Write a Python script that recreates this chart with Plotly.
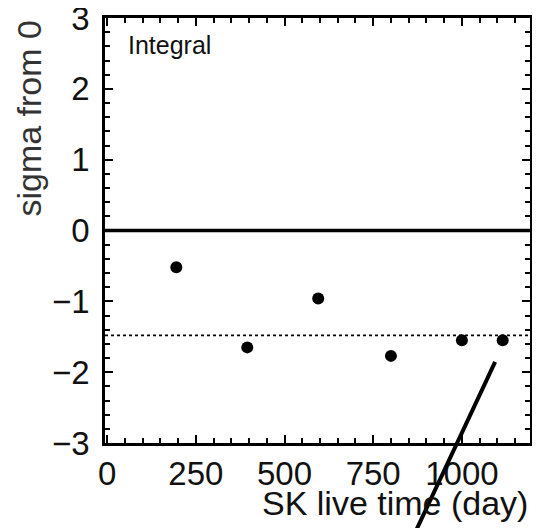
import plotly.graph_objects as go

# Data
live_time_days = [195, 395, 595, 800, 1000, 1115]
sigma_from_0 = [-0.52, -1.65, -0.96, -1.77, -1.55, -1.55]
reference_level = -1.48
x_tick_vals = [0, 250, 500, 750, 1000]
x_tick_text = ["0", "250", "500", "750", "1000"]
y_tick_vals = [-3, -2, -1, 0, 1, 2, 3]
y_tick_text = ["\u22123", "\u22122", "\u22121", "0", "1", "2", "3"]

FONT = "Liberation Sans, Arial, Helvetica, sans-serif"

fig = go.Figure()

fig.add_trace(go.Scatter(
    x=live_time_days, y=sigma_from_0, mode="markers",
    marker=dict(symbol="circle", size=12, color="black"),
    showlegend=False, hoverinfo="x+y",
))

# zero line (thick solid) and reference level (dotted)
fig.add_hline(y=0, line=dict(color="black", width=3.5))
fig.add_hline(y=reference_level, line=dict(color="black", width=1.8, dash="dot"))

axis_common = dict(
    showline=True, linecolor="black", linewidth=2.5, mirror="allticks",
    ticks="inside", ticklen=8, tickwidth=2, tickcolor="black",
    showgrid=False, zeroline=False, automargin=False,
    ticklabeloverflow="allow",
    tickfont=dict(family=FONT, size=33, color="#111"),
)

fig.update_xaxes(
    range=[-6, 1192], tickvals=x_tick_vals, ticktext=x_tick_text,
    minor=dict(dtick=50, tick0=0, ticks="inside", ticklen=5, tickwidth=1.5,
               tickcolor="black", showgrid=False),
    ticklabelstandoff=0,
    **axis_common,
)
fig.update_yaxes(
    range=[-3, 3], tickvals=y_tick_vals, ticktext=y_tick_text,
    minor=dict(dtick=0.2, tick0=0, ticks="inside", ticklen=5, tickwidth=1.5,
               tickcolor="black", showgrid=False),
    ticklabelstandoff=6,
    **axis_common,
)

fig.add_annotation(text="Integral", xref="paper", yref="paper", x=0.05, y=0.975,
                   xanchor="left", yanchor="top", showarrow=False,
                   font=dict(family=FONT, size=25, color="#111"))
fig.add_annotation(text="SK live time (day)", xref="paper", yref="paper", x=1.0, y=-0.19,
                   xanchor="right", yanchor="bottom", showarrow=False,
                   font=dict(family=FONT, size=34, color="#111"))
fig.add_annotation(text="sigma from 0", xref="paper", yref="paper", x=-0.181, y=1.0,
                   xanchor="center", yanchor="top", textangle=-90, showarrow=False,
                   font=dict(family=FONT, size=34, color="#333"))

# stray pen stroke on the scanned page
fig.add_shape(type="line", xref="paper", yref="paper", x0=0.918, y0=0.191, x1=0.73, y1=-0.21,
              line=dict(color="black", width=4))

fig.update_layout(
    width=532, height=520,
    margin=dict(l=97, r=10, t=10, b=85),
    plot_bgcolor="white", paper_bgcolor="white",
)

fig.write_html("out.html")
